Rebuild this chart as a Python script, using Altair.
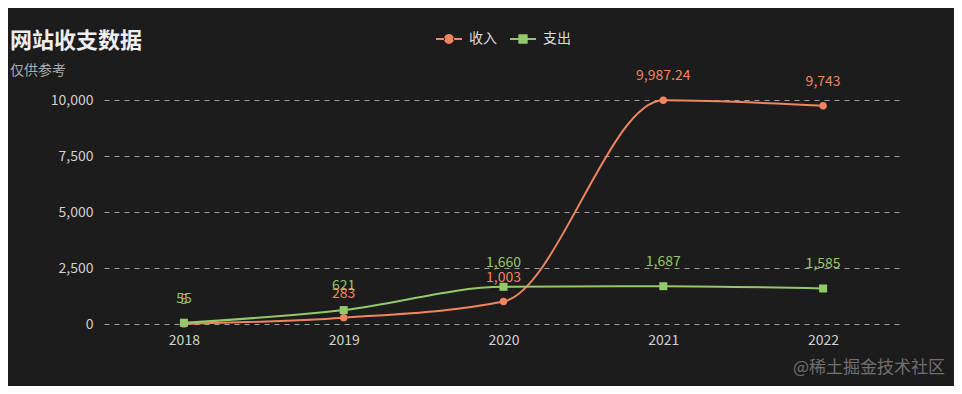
import altair as alt
import pandas as pd

years = ["2018", "2019", "2020", "2021", "2022"]
income = [5, 283, 1003, 9987.24, 9743]
expense = [55, 621, 1660, 1687, 1585]
series_names = ["收入", "支出"]
series_colors = ["#f0855f", "#93c96a"]
y_ticks = [0, 2500, 5000, 7500, 10000]

rows = []
for y, v in zip(years, income):
    rows.append({"year": y, "value": v, "series": series_names[0]})
for y, v in zip(years, expense):
    rows.append({"year": y, "value": v, "series": series_names[1]})
df = pd.DataFrame(rows)

FONT = "Noto Sans CJK SC"

circle_path = ("M-1,-0.08H-0.3V0.08H-1Z M0.3,-0.08H1V0.08H0.3Z "
               "M-0.38,0A0.38,0.38,0,1,0,0.38,0A0.38,0.38,0,1,0,-0.38,0Z")
square_path = ("M-1,-0.08H-0.3V0.08H-1Z M0.3,-0.08H1V0.08H0.3Z "
               "M-0.36,-0.36H0.36V0.36H-0.36Z")

color_scale = alt.Scale(domain=series_names, range=series_colors)
shape_scale = alt.Scale(domain=series_names, range=[circle_path, square_path])

legend = alt.Legend(
    title=None,
    orient="none",
    legendX=332,
    legendY=-74,
    direction="horizontal",
    labelColor="#dddddd",
    labelFontSize=14,
    labelFont=FONT,
    labelOffset=7,
    columnPadding=13,
    symbolSize=676,
    symbolStrokeWidth=0,
    symbolOpacity=1,
)

x_enc = alt.X("year:O", sort=years, scale=alt.Scale(type="point", padding=0.5),
              axis=alt.Axis(title=None, labelAngle=0, domain=False, ticks=False, grid=False,
                            labelColor="#d0d0d0", labelFontSize=14, labelFont=FONT, labelPadding=9))
y_enc = alt.Y("value:Q", scale=alt.Scale(domain=[0, 10000], nice=False),
              axis=alt.Axis(title=None, values=y_ticks, format=",.0f", domain=False, ticks=False,
                            grid=True, gridDash=[5, 5], gridColor="#a0a0a0", gridWidth=1,
                            labelColor="#d0d0d0", labelFontSize=14, labelFont=FONT, labelPadding=11))

base = alt.Chart(df)
color_enc = alt.Color("series:N", scale=color_scale, legend=legend)

lines = base.mark_line(interpolate="monotone", strokeWidth=2).encode(
    x=x_enc, y=y_enc, color=color_enc,
)

pts_income = base.transform_filter(alt.datum.series == series_names[0]).mark_point(
    filled=True, shape="circle", size=55, opacity=1).encode(
    x=x_enc, y=y_enc, color=color_enc)
pts_expense = base.transform_filter(alt.datum.series == series_names[1]).mark_point(
    filled=True, shape="square", size=64, opacity=1).encode(
    x=x_enc, y=y_enc, color=color_enc)

legend_layer = base.mark_point(filled=True, opacity=0).encode(
    x=x_enc, y=y_enc, color=color_enc,
    shape=alt.Shape("series:N", scale=shape_scale, legend=legend),
)

labels = base.mark_text(baseline="alphabetic", dy=-20, fontSize=14, font=FONT).encode(
    x=x_enc, y=y_enc,
    text=alt.Text("value:Q", format=",.2~f"),
    color=color_enc,
)

watermark = alt.Chart(pd.DataFrame({"t": ["@稀土掘金技术社区"]})).mark_text(
    align="right", baseline="middle", fontSize=17, font=FONT, color="#707070").encode(
    text="t:N", x=alt.value(841), y=alt.value(268))

chart = alt.layer(lines, pts_income, pts_expense, legend_layer, labels, watermark).properties(
    width=799,
    height=224,
    autosize=alt.AutoSizeParams(type="none"),
    padding={"left": 96, "top": 92, "right": 51, "bottom": 62},
    background="#1c1c1c",
    title=alt.TitleParams(
        text="网站收支数据",
        subtitle="仅供参考",
        anchor="start",
        frame="group",
        dx=-94,
        dy=75,
        offset=22,
        color="#eeeeee",
        fontSize=22,
        fontWeight="bold",
        font=FONT,
        subtitleColor="#aaaaaa",
        subtitleFontSize=14,
        subtitleFont=FONT,
        subtitlePadding=11,
    ),
).configure_view(stroke=None)

chart.save("out.html", embed_options={"renderer": "svg", "actions": False})
